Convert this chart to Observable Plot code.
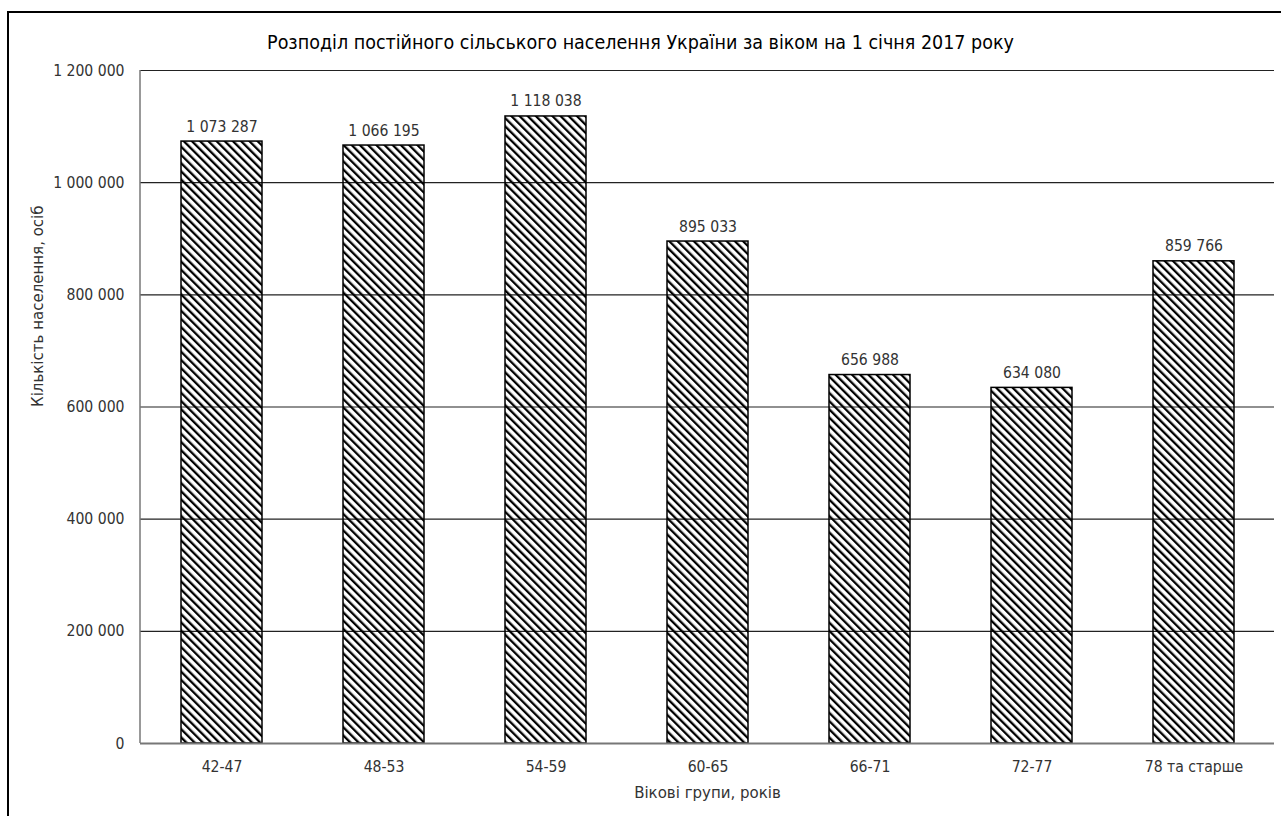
<!DOCTYPE html>
<html>
<head>
<meta charset="utf-8">
<script src="https://cdn.jsdelivr.net/npm/d3@7"></script>
<script src="https://cdn.jsdelivr.net/npm/@observablehq/plot@0.6"></script>
<style>
  html, body { margin: 0; padding: 0; background: #fff; width: 1281px; height: 816px; overflow: hidden; }
  #frame { position: absolute; left: 7px; top: 11px; width: 1290px; height: 820px; border-left: 2px solid #000; border-top: 2px solid #000; box-sizing: border-box; }
  #title { position: absolute; left: 0; width: 1281px; top: 31px; text-align: center; font-family: "DejaVu Sans Condensed", sans-serif; font-size: 19.5px; color: #000; }
  #chart { position: absolute; left: 0; top: 0; }
</style>
</head>
<body>
<div id="frame"></div>
<div id="chart"></div>
<div id="title">Розподіл постійного сільського населення України за віком на 1 січня 2017 року</div>
<script>
const categories = ["42-47", "48-53", "54-59", "60-65", "66-71", "72-77", "78 та старше"];
const population = [1073287, 1066195, 1118038, 895033, 656988, 634080, 859766];
const yTicks = [0, 200000, 400000, 600000, 800000, 1000000, 1200000];
const yLabel = "Кількість населення, осіб";
const xLabel = "Вікові групи, років";

const data = categories.map((c, i) => ({group: c, value: population[i]}));
const fmt = d3.formatLocale({decimal: ",", thousands: " ", grouping: [3], currency: ["", ""]}).format(",d");
const FONT = "DejaVu Sans Condensed, sans-serif";
const FS = 15.6;
const FL = 16.7;
const ns = "http://www.w3.org/2000/svg";

const chart = Plot.plot({
  width: 1281,
  height: 816,
  marginLeft: 140,
  marginRight: 7,
  marginTop: 70,
  marginBottom: 73,
  style: {fontFamily: FONT, fontSize: FS + "px", color: "#333", background: "transparent"},
  x: {domain: categories, paddingInner: 0.5, paddingOuter: 0.25, label: null},
  y: {domain: [0, 1200000], label: null},
  marks: [
    () => {
      const defs = document.createElementNS(ns, "defs");
      defs.innerHTML = `<pattern id="hatch" width="5.8" height="10" patternUnits="userSpaceOnUse" patternTransform="rotate(-45)">
        <rect x="0" y="0" width="2.3" height="10" fill="#000"/></pattern>`;
      return defs;
    },
    Plot.gridY(yTicks.filter(d => d > 0), {stroke: "#222", strokeOpacity: 1, strokeWidth: 1.2}),
    Plot.barY(data, {x: "group", y: "value", fill: "url(#hatch)", stroke: "#000", strokeWidth: 1.5}),
    (index, scales, values, dimensions) => {
      const line = document.createElementNS(ns, "line");
      const x = dimensions.marginLeft;
      line.setAttribute("x1", x);
      line.setAttribute("x2", x);
      line.setAttribute("y1", scales.y(yTicks[yTicks.length - 1]));
      line.setAttribute("y2", scales.y(0));
      line.setAttribute("stroke", "#777");
      line.setAttribute("stroke-width", 1.5);
      return line;
    },
    Plot.ruleY([0], {stroke: "#777", strokeWidth: 2}),
    Plot.text(data, {x: "group", y: "value", text: d => fmt(d.value), dy: -15, fill: "#333", fontSize: FS}),
    Plot.axisY({ticks: yTicks, tickFormat: fmt, tickSize: 0, tickPadding: 16, fontSize: FS, fill: "#333", label: null}),
    Plot.axisX({tickSize: 0, tickPadding: 17, fontSize: FS, fill: "#333", label: null}),
    Plot.text([yLabel], {frameAnchor: "left", dx: -103, rotate: -90, fontSize: FL, fill: "#333"}),
    Plot.text([xLabel], {frameAnchor: "bottom", dy: 54, fontSize: FL, fill: "#333"})
  ]
});
document.getElementById("chart").appendChild(chart);
</script>
</body>
</html>
